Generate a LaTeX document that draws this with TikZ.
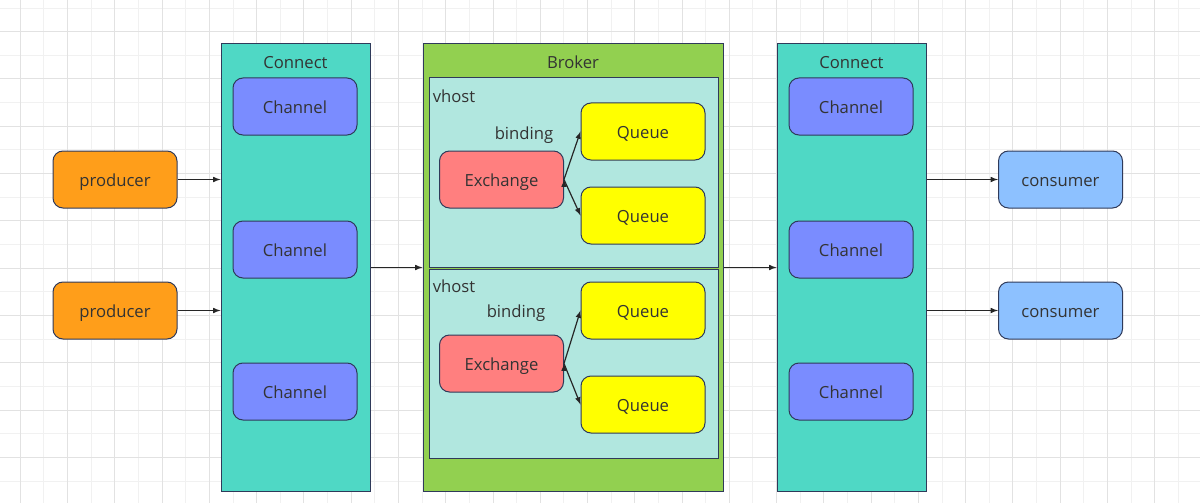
\documentclass[tikz,border=0pt]{standalone}
\usepackage{fontspec}
\setsansfont{Open Sans}
\definecolor{lnblue}{HTML}{2F3A5A}
\definecolor{txgray}{HTML}{333333}
\definecolor{tealc}{HTML}{4FD8C5}
\definecolor{chblu}{HTML}{7A8CFF}
\definecolor{brgrn}{HTML}{92D050}
\definecolor{vhcyn}{HTML}{B1E7DF}
\definecolor{exred}{HTML}{FF7F7F}
\definecolor{quyel}{HTML}{FFFF00}
\definecolor{prorg}{HTML}{FF9E1A}
\definecolor{cnsky}{HTML}{8DC1FF}
\definecolor{gridlt}{HTML}{F1F1F1}
\definecolor{griddk}{HTML}{E2E2E2}
\tikzset{
    rndblu/.style={rounded corners=7.5pt,draw=lnblue,line width=.75pt,minimum width=93pt,minimum height=42.75pt,align=center,text height=10.5pt,text depth=0pt,fill=chblu,text=txgray,font=\sffamily\fontsize{12.5}{15}\selectfont},
    rndred/.style={rounded corners=7.5pt,draw=lnblue,line width=.75pt,minimum width=93pt,minimum height=42.75pt,align=center,text height=10.5pt,text depth=0pt,fill=exred,text=txgray,font=\sffamily\fontsize{12.5}{15}\selectfont},
    rndyel/.style={rounded corners=7.5pt,draw=lnblue,line width=.75pt,minimum width=93pt,minimum height=42.75pt,align=center,text height=10.5pt,text depth=0pt,fill=quyel,text=txgray,font=\sffamily\fontsize{12.5}{15}\selectfont},
    rndorg/.style={rounded corners=7.5pt,draw=lnblue,line width=.75pt,minimum width=93pt,minimum height=42.75pt,align=center,text height=10.5pt,text depth=0pt,fill=prorg,text=txgray,font=\sffamily\fontsize{12.5}{15}\selectfont},
    rndsky/.style={rounded corners=7.5pt,draw=lnblue,line width=.75pt,minimum width=93pt,minimum height=42.75pt,align=center,text height=10.5pt,text depth=0pt,fill=cnsky,text=txgray,font=\sffamily\fontsize{12.5}{15}\selectfont},
    recteal/.style={draw=lnblue,line width=.75pt,minimum width=111.75pt,minimum height=335.25pt,fill=tealc},
    recgrn/.style={draw=lnblue,line width=.75pt,minimum width=225pt,minimum height=335.25pt,fill=brgrn},
    reccyn/.style={draw=lnblue,line width=.75pt,minimum width=216.75pt,minimum height=141.75pt,fill=vhcyn},
    lbltxt/.style={text=txgray,font=\sffamily\fontsize{12.5}{15}\selectfont,inner sep=0pt,text height=10.5pt,text depth=0pt}
}

\begin{document}
\begin{tikzpicture}[x=.75pt,y=-.75pt]
        \useasboundingbox (0,0) rectangle (1200,503);
        %---
        \foreach \i in {0,...,24} {
            \draw[gridlt,line width=.75pt] (20.3+23.63+47.27*\i,0) -- ++(0,503);
        }
        \foreach \i in {0,...,10} {
            \draw[gridlt,line width=.75pt] (0,8.05+47.3*\i) -- ++(1200,0);
        }
        \foreach \i in {0,...,24} {
            \draw[griddk,line width=.75pt] (20.3+47.27*\i,0) -- ++(0,503);
        }
        \foreach \i in {0,...,9} {
            \draw[griddk,line width=.75pt] (0,31.7+47.3*\i) -- ++(1200,0);
        }

        %---
        \node[recteal] (conn-l) at (295.5,267.5) {};
        \node[recgrn] (broker) at (573,267.5) {};
        \node[recteal] (conn-r) at (851.5,267.5) {};
        \node[reccyn] (vh-1) at (573.5,172.5) {};
        \node[reccyn] (vh-2) at (573.5,363.5) {};

        \node[lbltxt] (t-conn-l) at (295.5,61.3) {Connect};
        \node[lbltxt] (t-broker) at (573,61.3) {Broker};
        \node[lbltxt] (t-conn-r) at (851.5,61.3) {Connect};
        \node[lbltxt,anchor=west] (t-vh-1) at (432.5,95.3) {vhost};
        \node[lbltxt,anchor=west] (t-vh-2) at (432.5,285.3) {vhost};
        \node[lbltxt] (t-bind-1) at (524,132) {binding};
        \node[lbltxt] (t-bind-2) at (516,310.7) {binding};

        \node[rndorg] (prod-1) at (115,179.5) {producer};
        \node[rndorg] (prod-2) at (115,310.5) {producer};

        \node[rndblu] (ch-l-1) at (295,106.5) {Channel};
        \node[rndblu] (ch-l-2) at (295,249.5) {Channel};
        \node[rndblu] (ch-l-3) at (295,391.5) {Channel};
        \node[rndblu] (ch-r-1) at (851,106.5) {Channel};
        \node[rndblu] (ch-r-2) at (851,249.5) {Channel};
        \node[rndblu] (ch-r-3) at (851,391.5) {Channel};

        \node[rndred] (ex-1) at (501.5,179.5) {Exchange};
        \node[rndred] (ex-2) at (501.5,363.5) {Exchange};
        \node[rndyel] (q-1-a) at (643,131.5) {Queue};
        \node[rndyel] (q-1-b) at (643,215.5) {Queue};
        \node[rndyel] (q-2-a) at (643,310.5) {Queue};
        \node[rndyel] (q-2-b) at (643,404.5) {Queue};

        \node[rndsky] (cons-1) at (1060.5,179.5) {consumer};
        \node[rndsky] (cons-2) at (1060.5,310.5) {consumer};

        \begin{scope}[every path/.style={-latex,draw=black!85,line width=.9pt}]
            \draw (prod-1.east) -- (prod-1 -| conn-l.west);
            \draw (prod-2.east) -- (prod-2 -| conn-l.west);
            \draw (conn-l.east) -- (broker.west);
            \draw (broker.east) -- (conn-r.west);
            \draw (cons-1 -| conn-r.east) -- (cons-1.west);
            \draw (cons-2 -| conn-r.east) -- (cons-2.west);
            \draw (ex-1.east) edge (q-1-a.west)
                (ex-1.east) edge (q-1-b.west);
            \draw (ex-2.east) edge (q-2-a.west)
                (ex-2.east) edge (q-2-b.west);
        \end{scope}
    \end{tikzpicture}
\end{document}
